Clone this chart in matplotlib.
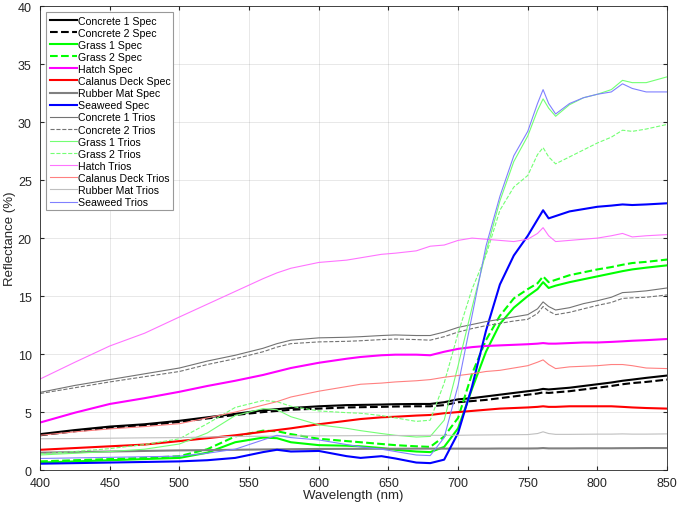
import matplotlib
matplotlib.use("Agg")
import matplotlib.pyplot as plt

# wavelength grid (nm) shared by every curve
wavelength = [400, 425, 450, 475, 500, 520, 540, 560, 570, 580, 600, 620, 630, 645, 655, 670, 680, 690,
              700, 710, 720, 730, 740, 750, 757, 761, 765, 770, 780, 790, 800, 810, 818, 825, 835, 850]

# reflectance (%)
conc1_spec = [3.1, 3.45, 3.75, 3.95, 4.25, 4.55, 4.85, 5.15, 5.25, 5.35, 5.5, 5.6, 5.62, 5.65, 5.68, 5.7, 5.7, 5.85,
              6.1, 6.2, 6.35, 6.5, 6.65, 6.8, 6.9, 7.0, 6.95, 7.0, 7.1, 7.25, 7.4, 7.55, 7.7, 7.8, 7.95, 8.15]
conc2_spec = [3.0, 3.35, 3.65, 3.85, 4.15, 4.45, 4.75, 5.0, 5.1, 5.2, 5.3, 5.4, 5.42, 5.45, 5.48, 5.5, 5.5, 5.6,
              5.85, 5.95, 6.05, 6.2, 6.35, 6.5, 6.6, 6.7, 6.65, 6.7, 6.8, 6.95, 7.1, 7.25, 7.4, 7.5, 7.6, 7.8]
grass1_spec = [0.65, 0.75, 0.85, 0.95, 1.05, 1.5, 2.4, 2.8, 2.75, 2.4, 2.15, 2.1, 2.05, 1.9, 1.75, 1.6, 1.55, 2.0,
               3.6, 7.0, 10.2, 12.6, 14.0, 15.0, 15.6, 16.2, 15.7, 15.9, 16.2, 16.45, 16.7, 16.95, 17.15, 17.3, 17.45, 17.65]
grass2_spec = [0.75, 0.85, 0.95, 1.05, 1.2, 1.8, 2.9, 3.4, 3.35, 3.1, 2.7, 2.5, 2.4, 2.25, 2.15, 2.05, 2.0, 2.9,
               4.5, 8.3, 11.2, 13.3, 14.8, 15.6, 16.1, 16.7, 16.2, 16.4, 16.8, 17.05, 17.3, 17.5, 17.7, 17.85, 17.95, 18.15]
hatch_spec = [4.1, 4.95, 5.7, 6.2, 6.75, 7.25, 7.7, 8.2, 8.5, 8.8, 9.25, 9.6, 9.75, 9.9, 9.95, 9.95, 9.9, 10.2,
              10.45, 10.6, 10.7, 10.75, 10.8, 10.85, 10.9, 10.95, 10.9, 10.9, 10.95, 11.0, 11.0, 11.05, 11.1, 11.15, 11.2, 11.3]
calanus_spec = [1.75, 1.9, 2.05, 2.2, 2.5, 2.75, 3.0, 3.3, 3.45, 3.6, 3.95, 4.25, 4.4, 4.55, 4.6, 4.7, 4.75, 4.9,
                5.0, 5.1, 5.2, 5.3, 5.35, 5.4, 5.45, 5.5, 5.45, 5.45, 5.5, 5.5, 5.5, 5.5, 5.45, 5.4, 5.35, 5.3]
rubber_spec = [1.5, 1.55, 1.6, 1.65, 1.7, 1.72, 1.75, 1.78, 1.79, 1.8, 1.82, 1.83, 1.83, 1.84, 1.84, 1.85, 1.85, 1.85,
               1.85, 1.85, 1.85, 1.86, 1.86, 1.86, 1.87, 1.9, 1.87, 1.87, 1.87, 1.88, 1.88, 1.88, 1.89, 1.89, 1.9, 1.9]
seaweed_spec = [0.55, 0.6, 0.65, 0.7, 0.75, 0.85, 1.05, 1.55, 1.75, 1.6, 1.65, 1.2, 1.05, 1.2, 1.0, 0.65, 0.6, 0.9,
                3.2, 7.2, 12.0, 16.0, 18.5, 20.2, 21.6, 22.4, 21.7, 21.9, 22.3, 22.5, 22.7, 22.8, 22.9, 22.85, 22.9, 23.0]

conc1_trios = [6.7, 7.3, 7.8, 8.3, 8.8, 9.4, 9.9, 10.5, 10.9, 11.2, 11.4, 11.45, 11.5, 11.6, 11.65, 11.6, 11.6, 11.9,
               12.3, 12.55, 12.8, 13.0, 13.2, 13.4, 13.9, 14.5, 14.1, 13.8, 14.0, 14.35, 14.6, 14.9, 15.3, 15.35, 15.45, 15.7]
conc2_trios = [6.6, 7.1, 7.6, 8.05, 8.5, 9.1, 9.6, 10.2, 10.6, 10.9, 11.05, 11.1, 11.15, 11.25, 11.3, 11.25, 11.2, 11.5,
               11.9, 12.2, 12.45, 12.65, 12.85, 13.0, 13.5, 14.1, 13.7, 13.4, 13.6, 13.9, 14.2, 14.45, 14.8, 14.85, 14.9, 15.1]
grass1_trios = [1.3, 1.45, 1.6, 1.8, 2.25, 3.2, 4.7, 5.3, 5.2, 4.6, 3.9, 3.6, 3.4, 3.15, 3.0, 2.85, 2.9, 4.3,
                9.0, 14.0, 18.8, 23.2, 26.6, 28.8, 31.0, 32.0, 31.2, 30.5, 31.5, 32.1, 32.4, 32.8, 33.6, 33.4, 33.4, 33.9]
grass2_trios = [1.4, 1.6, 1.85, 2.2, 2.7, 4.0, 5.4, 6.0, 5.9, 5.5, 5.1, 4.95, 4.9, 4.7, 4.5, 4.2, 4.3, 7.5,
                11.8, 15.6, 18.5, 22.4, 24.4, 25.4, 27.2, 27.8, 27.0, 26.4, 27.0, 27.6, 28.2, 28.7, 29.3, 29.2, 29.4, 29.8]
hatch_trios = [7.85, 9.3, 10.7, 11.8, 13.2, 14.3, 15.4, 16.5, 17.0, 17.4, 17.9, 18.1, 18.3, 18.6, 18.7, 18.9, 19.3, 19.4,
               19.8, 20.0, 19.9, 19.8, 19.7, 19.9, 20.4, 20.9, 20.2, 19.7, 19.8, 19.9, 20.0, 20.2, 20.4, 20.1, 20.2, 20.3]
calanus_trios = [3.0, 3.3, 3.55, 3.75, 4.0, 4.5, 5.0, 5.6, 5.9, 6.3, 6.8, 7.2, 7.4, 7.5, 7.6, 7.7, 7.8, 8.0,
                 8.15, 8.3, 8.5, 8.6, 8.8, 9.0, 9.3, 9.5, 9.1, 8.75, 8.9, 8.95, 9.0, 9.1, 9.1, 9.0, 8.8, 8.75]
rubber_trios = [2.7, 2.72, 2.75, 2.78, 2.8, 2.85, 2.9, 2.92, 2.93, 2.95, 2.95, 2.96, 2.97, 2.98, 2.98, 2.99, 3.0, 3.0,
                3.0, 3.02, 3.03, 3.04, 3.05, 3.06, 3.15, 3.3, 3.15, 3.08, 3.08, 3.09, 3.1, 3.1, 3.12, 3.1, 3.1, 3.12]
seaweed_trios = [1.0, 1.05, 1.1, 1.15, 1.2, 1.45, 1.8, 2.6, 3.0, 2.8, 2.6, 2.2, 2.0, 1.8, 1.6, 1.3, 1.25, 2.8,
                 7.3, 13.3, 19.3, 23.6, 27.1, 29.2, 31.6, 32.8, 31.6, 30.7, 31.6, 32.1, 32.4, 32.6, 33.3, 32.9, 32.6, 32.6]

plt.rcParams['font.family'] = ['Liberation Sans', 'DejaVu Sans']

fig = plt.figure(figsize=(6.8, 5.06), dpi=100)
ax = fig.add_axes([0.059, 0.069, 0.922, 0.917])

thick = 1.5
thin = 0.8
# (label, data, colour, style, width)
curves = [
    ('Concrete 1 Spec', conc1_spec, 'k', '-', thick),
    ('Concrete 2 Spec', conc2_spec, 'k', '--', thick),
    ('Grass 1 Spec', grass1_spec, (0, 1, 0), '-', thick),
    ('Grass 2 Spec', grass2_spec, (0, 1, 0), '--', thick),
    ('Hatch Spec', hatch_spec, (1, 0, 1), '-', thick),
    ('Calanus Deck Spec', calanus_spec, (1, 0, 0), '-', thick),
    ('Rubber Mat Spec', rubber_spec, (0.5, 0.5, 0.5), '-', thick),
    ('Seaweed Spec', seaweed_spec, (0, 0, 1), '-', thick),
    ('Concrete 1 Trios', conc1_trios, (0.45, 0.45, 0.45), '-', thin),
    ('Concrete 2 Trios', conc2_trios, (0.45, 0.45, 0.45), '--', thin),
    ('Grass 1 Trios', grass1_trios, (0.45, 1, 0.45), '-', thin),
    ('Grass 2 Trios', grass2_trios, (0.45, 1, 0.45), '--', thin),
    ('Hatch Trios', hatch_trios, (1, 0.45, 1), '-', thin),
    ('Calanus Deck Trios', calanus_trios, (1, 0.5, 0.5), '-', thin),
    ('Rubber Mat Trios', rubber_trios, (0.75, 0.75, 0.75), '-', thin),
    ('Seaweed Trios', seaweed_trios, (0.5, 0.5, 1), '-', thin),
]

for label, data, color, style, lw in curves:
    ax.plot(wavelength, data, color=color, linestyle=style, linewidth=lw, label=label)

ax.set_xlim(400, 850)
ax.set_ylim(0, 40)
ax.set_xticks(range(400, 851, 50))
ax.set_yticks(range(0, 41, 5))
ax.grid(True, color=(0.15, 0.15, 0.15), alpha=0.12, linewidth=0.6)
ax.tick_params(direction='in', top=True, right=True, labelsize=9, colors=(0.15, 0.15, 0.15), length=3)
ax.tick_params(axis='y', pad=6)
ax.tick_params(axis='x', pad=5)
for s in ax.spines.values():
    s.set_color((0.15, 0.15, 0.15))
    s.set_linewidth(0.6)

ax.set_xlabel('Wavelength (nm)', fontsize=9.5, color=(0.15, 0.15, 0.15), labelpad=0)
ax.set_ylabel('Reflectance (%)', fontsize=9.5, color=(0.15, 0.15, 0.15), labelpad=1)

leg = ax.legend(loc='upper left', fontsize=7.6, handlelength=2.6, handletextpad=0.05,
                labelspacing=0.2, borderpad=0.3, borderaxespad=0.6, fancybox=False, framealpha=1)
leg.get_frame().set_edgecolor((0.6, 0.6, 0.6))
leg.get_frame().set_linewidth(0.8)

fig.savefig('out.png', dpi=100)
